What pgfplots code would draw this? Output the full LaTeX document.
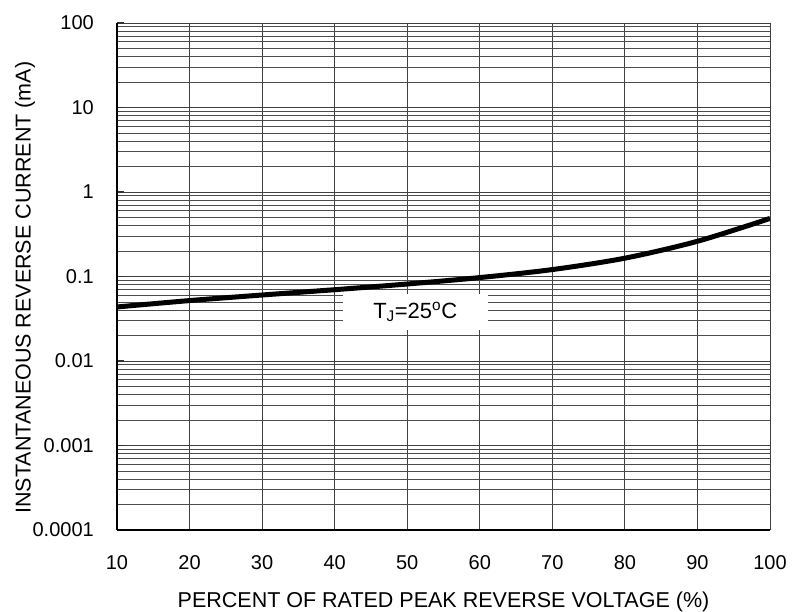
\documentclass[border=0pt]{standalone}
\usepackage{fontspec}
\setmainfont{Liberation Sans}
\usepackage{pgfplots}
\pgfplotsset{compat=1.18}
\begin{document}
\begin{tikzpicture}
\begin{axis}[
    ymode=log,
    scale only axis,
    width=653bp, height=507bp,
    xmin=10, xmax=100, ymin=1e-4, ymax=100,
    xtick={10,20,...,100},
    ytick={1e-4,1e-3,0.01,0.1,1,10,100},
    yticklabels={0.0001,0.001,0.01,0.1,1,10,100},
    minor ytick={2e-4,3e-4,4e-4,5e-4,6e-4,7e-4,8e-4,9e-4,
                 2e-3,3e-3,4e-3,5e-3,6e-3,7e-3,8e-3,9e-3,
                 0.02,0.03,0.04,0.05,0.06,0.07,0.08,0.09,
                 0.2,0.3,0.4,0.5,0.6,0.7,0.8,0.9,
                 2,3,4,5,6,7,8,9,
                 20,30,40,50,60,70,80,90},
    grid=both,
    major grid style={black!75, line width=0.8bp},
    minor grid style={black!70, line width=0.8bp},
    axis lines*=left,
    axis line style={black, line width=1.3bp},
    xtick style={draw=none},
    ytick style={black!80, line width=1.4bp},
    tickpos=left, tick align=inside,
    major tick length=7bp, minor tick length=0pt,
    /pgf/number format/assume math mode=true,
    ticklabel style={font=\fontsize{20bp}{24bp}\selectfont, inner sep=0pt},
    xticklabel style={anchor=base, yshift=-39bp},
    yticklabel style={anchor=east, xshift=-23bp},
    label style={font=\fontsize{21.5bp}{26bp}\selectfont},
    xlabel={PERCENT OF RATED PEAK REVERSE VOLTAGE (\%)},
    ylabel={INSTANTANEOUS REVERSE CURRENT (mA)},
    xlabel style={at={(axis description cs:0.5,-0.1519)}, anchor=base},
    ylabel style={at={(axis description cs:-0.1409,0.478)}, anchor=center},
]
\coordinate (bl) at (rel axis cs:0,0);
\addplot[black, line width=5bp, smooth] coordinates {
    (10,0.0436) (20,0.0519) (30,0.0604) (40,0.0698) (50,0.0815)
    (60,0.0971) (70,0.1208) (80,0.1648) (90,0.2612) (100,0.4864)
};
\node[fill=white, minimum width=145bp, minimum height=36bp, inner sep=0pt,
      font=\fontsize{22bp}{26bp}\selectfont]
    at (axis cs:51.1,0.038) {T\textsubscript{J}=25\textsuperscript{o}C};
\end{axis}
\pgfresetboundingbox
\path[use as bounding box] ([shift={(-117bp,-82bp)}]bl) rectangle ++(809bp,612bp);
\end{tikzpicture}
\end{document}
